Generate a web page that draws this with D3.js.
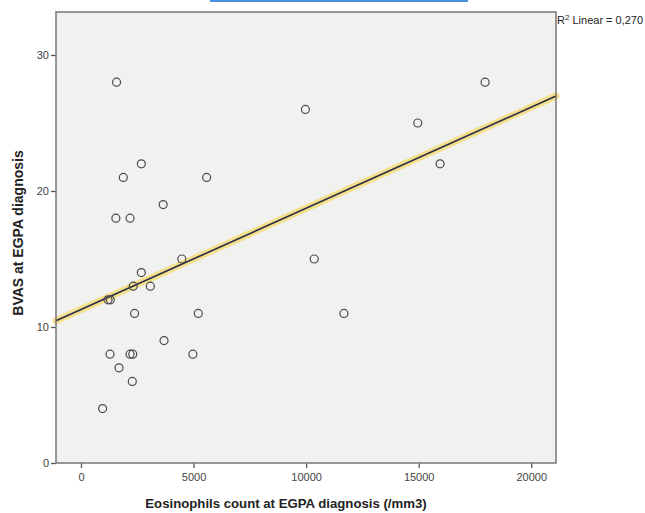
<!DOCTYPE html>
<html>
<head>
<meta charset="utf-8">
<script src="https://cdn.jsdelivr.net/npm/d3@7"></script>
<style>
  html, body { margin: 0; padding: 0; background: #fff; }
  svg { display: block; font-family: "Liberation Sans", Arial, sans-serif; }
</style>
</head>
<body>
<div id="chart"></div>
<script>
// Eosinophil count (/mm3) vs BVAS at EGPA diagnosis
const eosinophils = [
  1580, 2680, 1880, 5580, 3650, 1550, 2180, 4480,
  2680, 2320, 3080, 1200, 1300, 2380, 5210, 3690,
  1290, 2180, 2300, 4970, 1690, 2280, 960,
  9970, 17950, 14960, 15950, 10360, 11680
];
const bvas = [
  28, 22, 21, 21, 19, 18, 18, 15,
  14, 13, 13, 12, 12, 11, 11, 9,
  8, 8, 8, 8, 7, 6, 4,
  26, 28, 25, 22, 15, 11
];
const xTicks = [0, 5000, 10000, 15000, 20000];
const yTicks = [0, 10, 20, 30];
const r2Label = 'Linear = 0,270';

const W = 645, H = 513;
const plot = { left: 56, right: 556, top: 12, bottom: 463 };

const svg = d3.select('#chart').append('svg')
  .attr('width', W)
  .attr('height', H);

// cut-off link underline at the top of the page
svg.append('rect')
  .attr('x', 210).attr('y', 0)
  .attr('width', 258).attr('height', 2)
  .attr('fill', '#4a90e2');

const x = d3.scaleLinear().domain([-1110, 21100]).range([plot.left, plot.right]);
const y = d3.scaleLinear().domain([0, (plot.bottom - plot.top) / 13.6]).range([plot.bottom, plot.top]);

// plot background
svg.append('rect')
  .attr('x', plot.left).attr('y', plot.top)
  .attr('width', plot.right - plot.left)
  .attr('height', plot.bottom - plot.top)
  .attr('fill', '#f1f1f0');

// axes
const xAxis = svg.append('g')
  .attr('transform', `translate(0,${plot.bottom})`)
  .call(d3.axisBottom(x).tickValues(xTicks).tickSize(5).tickPadding(5).tickFormat(d3.format('d')));
const yAxis = svg.append('g')
  .attr('transform', `translate(${plot.left},0)`)
  .call(d3.axisLeft(y).tickValues(yTicks).tickSize(5).tickPadding(2).tickFormat(d3.format('d')));

[xAxis, yAxis].forEach(ax => {
  ax.select('.domain').remove();
  ax.selectAll('.tick line').attr('stroke', '#555').attr('stroke-width', 1.3);
  ax.selectAll('.tick text').attr('fill', '#444').attr('font-size', 11)
    .attr('font-family', '"Liberation Sans Narrow", "Liberation Sans", Arial, sans-serif');
});

// regression line (least squares fit of the data)
const n = eosinophils.length;
const mx = d3.mean(eosinophils), my = d3.mean(bvas);
let sxy = 0, sxx = 0;
for (let i = 0; i < n; i++) {
  sxy += (eosinophils[i] - mx) * (bvas[i] - my);
  sxx += (eosinophils[i] - mx) ** 2;
}
const slope = sxy / sxx;
const intercept = my - slope * mx;
const fit = x.domain().map(v => [v, intercept + slope * v]);
const lineGen = d3.line().x(d => x(d[0])).y(d => y(d[1]));

svg.append('path')
  .datum(fit)
  .attr('d', lineGen)
  .attr('fill', 'none')
  .attr('stroke', '#f3df8c')
  .attr('stroke-width', 7)
  .attr('stroke-linecap', 'round');
svg.append('path')
  .datum(fit)
  .attr('d', lineGen)
  .attr('fill', 'none')
  .attr('stroke', '#2b2d45')
  .attr('stroke-width', 1.6);

// points
svg.append('g')
  .selectAll('circle')
  .data(eosinophils.map((v, i) => [v, bvas[i]]))
  .join('circle')
  .attr('cx', d => x(d[0]))
  .attr('cy', d => y(d[1]))
  .attr('r', 4)
  .attr('fill', 'none')
  .attr('stroke', '#4a4a4a')
  .attr('stroke-width', 1.2);

// frame
svg.append('rect')
  .attr('x', plot.left).attr('y', plot.top)
  .attr('width', plot.right - plot.left)
  .attr('height', plot.bottom - plot.top)
  .attr('fill', 'none')
  .attr('stroke', '#777')
  .attr('stroke-width', 1.5);

// R² label
const r2 = svg.append('text')
  .attr('x', plot.right + 1)
  .attr('y', 24)
  .attr('font-size', 11)
  .attr('fill', '#222')
  .attr('font-family', '"Liberation Sans Narrow", "Liberation Sans", Arial, sans-serif');
r2.append('tspan').text('R');
r2.append('tspan').attr('font-size', 8).attr('dy', -4).text('2');
r2.append('tspan').attr('dy', 4).text(' ' + r2Label);

// axis titles
svg.append('text')
  .attr('x', 286)
  .attr('y', 508)
  .attr('text-anchor', 'middle')
  .attr('font-size', 13.2)
  .attr('font-weight', 'bold')
  .attr('fill', '#222')
  .text('Eosinophils count at EGPA diagnosis (/mm3)');

svg.append('text')
  .attr('transform', 'translate(23,233) rotate(-90)')
  .attr('text-anchor', 'middle')
  .attr('font-size', 14)
  .attr('font-weight', 'bold')
  .attr('fill', '#222')
  .text('BVAS at EGPA diagnosis');
</script>
</body>
</html>
